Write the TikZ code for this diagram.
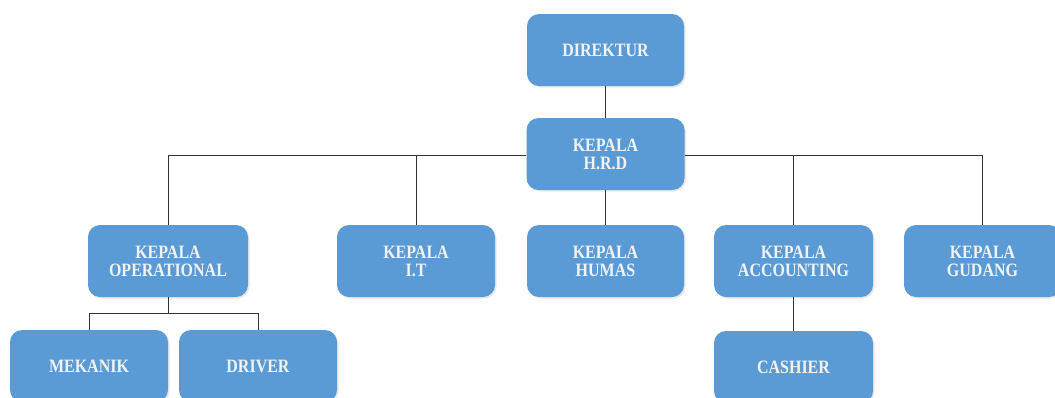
\documentclass[tikz,border=0pt]{standalone}
\usepackage{fontspec}
\usepackage{graphicx}
\setmainfont{Liberation Serif}
\usetikzlibrary{shadows}
\definecolor{boxblue}{HTML}{5B9BD5}
\definecolor{boxtext}{HTML}{F2F2F2}
\definecolor{linec}{HTML}{333333}
\newcommand\boxlbl[1]{\raisebox{-3pt}[\height][\depth]{\scalebox{1}[1.18]{\begin{tabular}{@{}c@{}}#1\end{tabular}}}}
\tikzset{
  unit/.style={rectangle, rounded corners=12pt, fill=boxblue, draw=none,
    minimum height=72pt, text=boxtext, align=center,
    font=\fontsize{16}{15.3}\selectfont\bfseries, inner sep=2pt,
    drop shadow={opacity=0.18, shadow xshift=1.5pt, shadow yshift=-1.5pt}},
  link/.style={draw=linec, line width=0.9pt}
}
\begin{document}
\begin{tikzpicture}[x=1pt,y=-1pt]
\useasboundingbox (0,0) rectangle (1055,397);
\node[unit, minimum width=157pt] (dir) at (605.5,50) {\boxlbl{DIREKTUR}};
\node[unit, minimum width=158pt] (hrd) at (605.5,154) {\boxlbl{KEPALA\\H.R.D}};
\node[unit, minimum width=160pt] (ops) at (168,261) {\boxlbl{KEPALA\\OPERATIONAL}};
\node[unit, minimum width=158pt] (it) at (416,261) {\boxlbl{KEPALA\\I.T}};
\node[unit, minimum width=157pt] (hum) at (605.5,261) {\boxlbl{KEPALA\\HUMAS}};
\node[unit, minimum width=159pt] (acc) at (793.5,261) {\boxlbl{KEPALA\\ACCOUNTING}};
\node[unit, minimum width=157pt] (gud) at (982.5,261) {\boxlbl{KEPALA\\GUDANG}};
\node[unit, minimum width=158pt] (mek) at (89,366) {\boxlbl{MEKANIK}};
\node[unit, minimum width=158pt] (drv) at (258,366) {\boxlbl{DRIVER}};
\node[unit, minimum width=159pt] (cas) at (793.5,367) {\boxlbl{CASHIER}};
\coordinate (hl) at (168,155.5);
\coordinate (hr) at (982.5,155.5);
\coordinate (ob) at (168,313);
\draw[link] (dir.south) -- (hrd.north);
\draw[link] (hrd.south) -- (hum.north);
\draw[link] (hrd.west |- hl) -- (hl) -- (ops.north);
\draw[link] (hrd.east |- hr) -- (hr) -- (gud.north);
\draw[link] (it.north) -- (it.north |- hl);
\draw[link] (acc.north) -- (acc.north |- hr);
\draw[link] (ops.south) -- (ob);
\draw[link] (mek.north) -- (mek.north |- ob) -- (drv.north |- ob) -- (drv.north);
\draw[link] (acc.south) -- (cas.north);
\end{tikzpicture}
\end{document}
